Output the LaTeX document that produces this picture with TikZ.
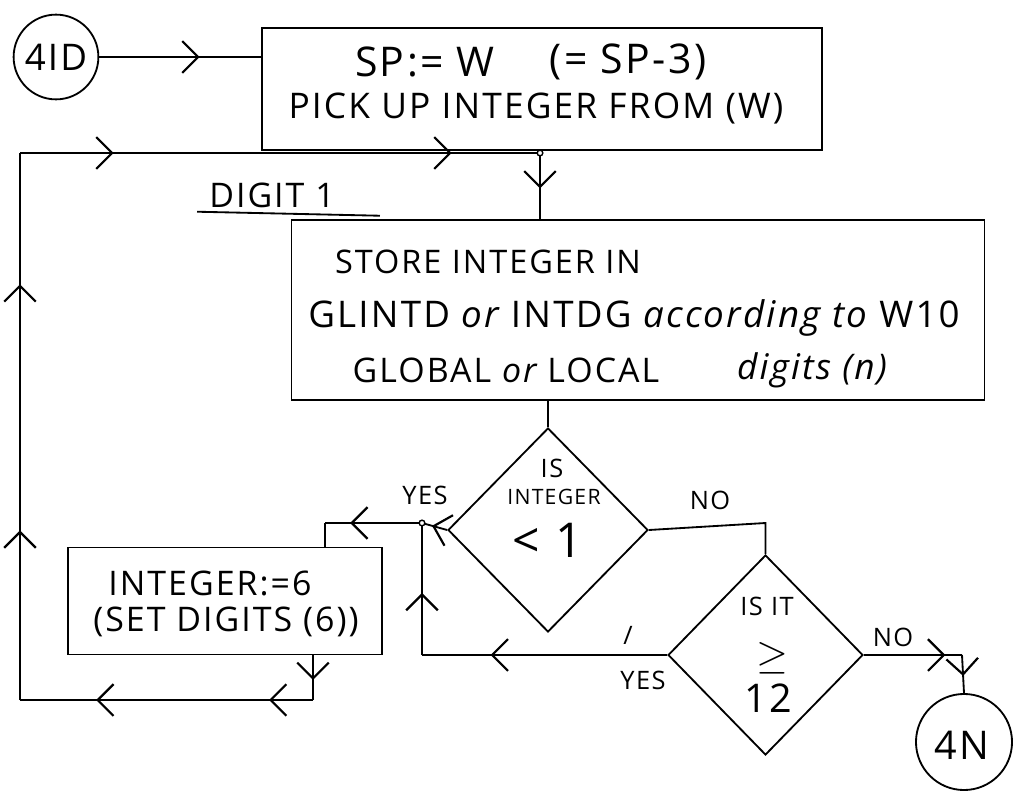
\documentclass[tikz,border=0pt]{standalone}
\usepackage{fontspec}
\usepackage{graphicx}
\setmainfont{Open Sans}
\newfontfamily\hand{Open Sans}[LetterSpace=6]
\usetikzlibrary{shapes.geometric,arrows.meta,decorations.markings,calc}
\newcommand{\fsz}[1]{\fontsize{#1}{#1}\selectfont}
\tikzset{
 ln/.style={line width=1.3pt},
 box/.style={draw,line width=1.3pt,rectangle,inner sep=0pt},
 dia/.style={draw,line width=1.3pt,diamond,inner sep=0pt},
 term/.style={draw,line width=1.3pt,circle,inner sep=0pt},
 dot/.style={draw,line width=1pt,circle,inner sep=0pt,minimum size=4pt,fill=white},
 txt/.style={inner sep=0pt,font=\hand},
 arr/.style={postaction={decorate},decoration={markings,mark=at position #1 with {\arrow[scale=1.4]{Straight Barb[length=8pt,width=16pt,line width=1.1pt]}}}},
 arrr/.style 2 args={postaction={decorate},decoration={markings,
   mark=at position #1 with {\arrow[scale=1.4]{Straight Barb[length=8pt,width=16pt,line width=1.1pt]}},
   mark=at position #2 with {\arrow[scale=1.4]{Straight Barb[length=8pt,width=16pt,line width=1.1pt]}}}},
}
\begin{document}
\begin{tikzpicture}[x=0.708pt,y=-0.708pt]
\useasboundingbox (0,0) rectangle (1017,791);
% terminals
\node[term,minimum size=60pt] (c4ID) at (56,57) {};
\node[txt] (t4ID) at (56,57) {\fsz{26}4ID};
\node[term,minimum size=68pt] (c4N) at (964,742) {};
\node[txt] (t4N) at (962,745) {\fsz{28}4N};
% boxes
\node[box,minimum width=396.5pt,minimum height=86.4pt] (box1) at (542,89) {};
\node[txt] (t1a) at (425,62) {\fsz{29}SP:= W};
\node[txt] (t1b) at (628,62) {\fsz{29}(= SP-3)};
\node[txt] (t1c) at (536,108) {\fsz{25}PICK UP INTEGER FROM (W)};
\node[box,minimum width=490.6pt,minimum height=127.4pt] (box2) at (638,310) {};
\node[txt] (t2a) at (488,262) {\fsz{23}STORE INTEGER IN};
\node[txt] (t2b) at (634,318) {\fsz{26}GLINTD {\itshape or} INTDG {\itshape according to} W10};
\node[txt] (t2c) at (506,370) {\fsz{24}GLOBAL {\itshape or} LOCAL};
\node[txt] (t2d) at (812,370) {\fsz{25}\itshape digits (n)};
\node[box,minimum width=222.3pt,minimum height=75.8pt] (box3) at (225,601) {};
\node[txt] (t3a) at (210,583) {\fsz{24}INTEGER:=6};
\node[txt] (t3b) at (226,622) {\fsz{24}(SET DIGITS (6))};
% diamonds
\node[dia,minimum width=141.6pt,minimum height=144.4pt] (d1) at (548,530) {};
\node[txt] (d1a) at (552,468) {\fsz{18}IS};
\node[txt] (d1b) at (554,497) {\fsz{15}INTEGER};
\node[txt] (d1c) at (548,540) {\fsz{34}< 1};
\node[dia,minimum width=138pt,minimum height=141.6pt] (d2) at (765.5,655) {};
\node[txt] (d2a) at (767,606) {\fsz{18}IS IT};
\node[inner sep=0pt] (d2b) at (772,658) {\scalebox{2.9}{$\geq$}};
\node[txt] (d2c) at (768,698) {\fsz{28}12};
% labels
\node[txt] (dig) at (272,195) {\fsz{24}DIGIT 1};
\draw[ln] ($(dig.south west)+(-12,4)$) -- ($(dig.south east)+(45,8)$);
\node[txt] (yes1) at (425,495) {\fsz{18}YES};
\node[txt] (no1) at (710,500) {\fsz{18}NO};
\node[txt] (yes2) at (643,680) {\fsz{18}YES};
\node[txt] (tick) at (628,635) {\fsz{18}/};
\node[txt] (no2) at (893,637) {\fsz{18}NO};
% coordinates
\coordinate (J1) at (540,153);
\coordinate (L2) at (20,153);
\coordinate (L1) at (20,700);
\coordinate (B3o) at (313,700);
\coordinate (J2) at (422,523);
\coordinate (K1) at (325,523);
\coordinate (K2) at (422,655);
\coordinate (K3) at (765.5,523);
\coordinate (K4) at (962,655);
% connectors
\draw[ln,arr=0.62] (c4ID.east) -- (box1.west |- c4ID.east);
\draw[ln,arr=0.55] (box1.south -| J1) -- (box2.north -| J1);
\draw[ln] (box2.south -| d1.north) -- (d1.north);
\draw[ln,arr=0.55] (box3.south -| B3o) -- (B3o);
\draw[ln,arrr={0.15}{0.74}] (B3o) -- (L1);
\draw[ln,arrr={0.31}{0.76}] (L1) -- (L2);
\draw[ln,arrr={0.18}{0.83}] (L2) -- (J1);
\draw[ln,arr=0.6] (d1.west) -- (J2);
\draw[ln,arr=0.74] (J2) -- (K1);
\draw[ln] (K1) -- (box3.north -| K1);
\draw[ln,arr=0.72] (d2.west) -- (K2);
\draw[ln,arr=0.47] (K2) -- (J2);
\draw[ln] (d1.east) -- (K3) -- (d2.north);
\draw[ln,arr=0.83] (d2.east) -- (K4);
\draw[ln,arr=0.55] (K4) -- (c4N.north);
\node[dot] (j1dot) at (J1) {};
\node[dot] (j2dot) at (J2) {};
\end{tikzpicture}
\end{document}
